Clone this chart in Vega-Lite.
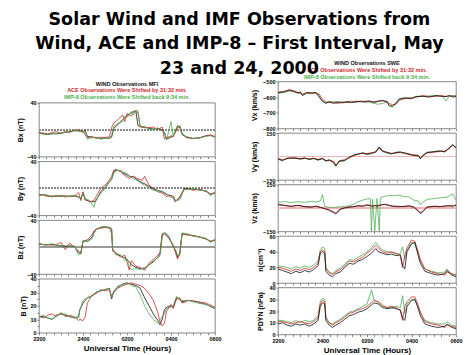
{
"$schema":"https://vega.github.io/schema/vega-lite/v6.json",
"background":"white",
"padding":{"left":16,"top":10,"right":6,"bottom":3},
"title":{"text":["Solar Wind and IMF Observations from","Wind, ACE and IMP-8 – First Interval, May","23 and 24, 2000"],"font":"DejaVu Sans","fontSize":17.5,"fontWeight":"bold","lineHeight":24.5,"color":"#000","anchor":"middle","offset":-16},
"config":{
 "view":{"stroke":"#555","strokeWidth":0.7},
 "axis":{"grid":false,"domain":false,"tickColor":"#555","tickSize":2,"tickWidth":0.7,"labelFont":"Liberation Sans","labelFontWeight":"bold","labelFontSize":5.5,"labelColor":"#000","labelPadding":1,"titleFont":"Liberation Sans","titleFontWeight":"bold","titleFontSize":7,"titleColor":"#000"},
 "line":{"strokeWidth":0.8,"clip":true},
 "text":{"font":"Liberation Sans","fontWeight":"bold","fontSize":5.5}
},
"spacing":28,
"hconcat":[
{
 "spacing":4.7,
 "bounds":"flush",
 "vconcat":[
 {
  "width":176,"height":34.3,
  "view":{"stroke":null},
  "data":{"values":[{"line":" ","s":"w"},{"line":"WIND Observations MFI","s":"w"},{"line":"ACE Observations Were Shifted by 31:32 min.","s":"a"},{"line":"IMP-8 Observations Were Shifted back 9:34 min.","s":"i"}]},
  "mark":{"type":"text","clip":false},
  "encoding":{
   "text":{"field":"line"},
   "y":{"field":"line","type":"ordinal","axis":null,"scale":{"type":"point","padding":0,"domain":[" ","  ","   ","WIND Observations MFI","ACE Observations Were Shifted by 31:32 min.","IMP-8 Observations Were Shifted back 9:34 min."]}},
   "color":{"field":"s","type":"nominal","legend":null,"scale":{"domain":["w","a","i"],"range":["#111111","#d0282c","#4cae50"]}}
  }
 },
 {
  "width":176,"height":54,
  "data":{"values":[
{"t":0,"w":-4,"a":-5,"i":-5},{"t":0.2,"w":-6,"a":-5,"i":-7},{"t":0.4,"w":-7,"a":-6,"i":-7},{"t":0.6,"w":-6,"a":-4,"i":-6},{"t":0.8,"w":-6,"a":-3,"i":-5},{"t":1.0,"w":-5,"a":-6,"i":-5},{"t":1.2,"w":-4,"a":-2,"i":-4},{"t":1.4,"w":-3,"a":-4,"i":-2},{"t":1.6,"w":-1,"a":-1,"i":-2},{"t":1.8,"w":-2,"a":0,"i":-1},{"t":2.0,"w":-3,"a":-2,"i":-4},{"t":2.1,"w":-1,"a":-8,"i":-3},{"t":2.2,"w":-10,"a":-12,"i":-14},{"t":2.4,"w":-11,"a":-10,"i":-12},{"t":2.6,"w":-12,"a":-13,"i":-11},{"t":2.8,"w":-13,"a":-11,"i":-14},{"t":3.0,"w":-12,"a":-12,"i":-13},{"t":3.2,"w":-13,"a":-10,"i":-12},{"t":3.3,"w":-11,"a":3,"i":-8},{"t":3.4,"w":2,"a":10,"i":5},{"t":3.6,"w":8,"a":15,"i":10},{"t":3.8,"w":15,"a":22,"i":12},{"t":3.9,"w":18,"a":12,"i":20},{"t":4.0,"w":21,"a":24,"i":18},{"t":4.2,"w":25,"a":20,"i":27},{"t":4.3,"w":27,"a":26,"i":22},{"t":4.4,"w":28,"a":27,"i":29},{"t":4.5,"w":6,"a":25,"i":28},{"t":4.6,"w":5,"a":4,"i":4},{"t":4.8,"w":4,"a":3,"i":5},{"t":5.0,"w":2,"a":3,"i":1},{"t":5.2,"w":1,"a":4,"i":0},{"t":5.4,"w":2,"a":0,"i":3},{"t":5.6,"w":0,"a":4,"i":-2},{"t":5.7,"w":-5,"a":-14,"i":-3},{"t":5.8,"w":-14,"a":-12,"i":-15},{"t":6.0,"w":-11,"a":-9,"i":12},{"t":6.1,"w":-10,"a":-10,"i":-10},{"t":6.3,"w":5,"a":2,"i":7},{"t":6.4,"w":4,"a":6,"i":3},{"t":6.5,"w":-7,"a":-5,"i":-6},{"t":6.7,"w":-11,"a":-12,"i":-10},{"t":7.0,"w":-13,"a":-13,"i":-13},{"t":7.3,"w":-12,"a":-12,"i":-12},{"t":7.6,"w":-9,"a":-9,"i":-10},{"t":7.8,"w":-8,"a":-8,"i":-9},{"t":8.0,"w":-11,"a":-10,"i":-11}
  ]},
  "transform":[{"fold":["w","a","i"],"as":["s","v"]}],
  "layer":[
   {"mark":{"type":"rule","color":"#8a8a8a","strokeWidth":0.5,"strokeDash":[1.5,1.5]},"encoding":{"y":{"datum":0,"type":"quantitative"}}},
   {"mark":{"type":"line"},"encoding":{
     "x":{"field":"t","type":"quantitative","title":null,"scale":{"domain":[0,8],"nice":false,"zero":false},"axis":{"values":[0,0.3333,0.6667,1,1.3333,1.6667,2,2.3333,2.6667,3,3.3333,3.6667,4,4.3333,4.6667,5,5.3333,5.6667,6,6.3333,6.6667,7,7.3333,7.6667,8],"labels":false}},
     "y":{"field":"v","type":"quantitative","title":"Bx (nT)","scale":{"domain":[-40,40],"nice":false,"zero":false},"axis":{"values":[-40,-30,-20,-10,0,10,20,30,40],"labelExpr":"datum.value % 20 == 0 ? datum.label : ''","titlePadding":3}},
     "color":{"field":"s","type":"nominal","legend":null,"scale":{"domain":["w","a","i"],"range":["#111111","#d0282c","#4cae50"]}}
   }}
  ]
 },
 {
  "width":176,"height":54,
  "data":{"values":[
{"t":0,"w":-10,"a":-9,"i":-11},{"t":0.2,"w":-9,"a":-10,"i":-9},{"t":0.4,"w":-11,"a":-12,"i":-10},{"t":0.6,"w":-12,"a":-11,"i":-13},{"t":0.8,"w":-11,"a":-12,"i":-10},{"t":1.0,"w":-12,"a":-10,"i":-12},{"t":1.2,"w":-11,"a":-13,"i":-11},{"t":1.4,"w":-12,"a":-11,"i":-12},{"t":1.6,"w":-11,"a":-12,"i":-10},{"t":1.8,"w":-13,"a":-6,"i":-12},{"t":1.9,"w":-15,"a":-18,"i":-14},{"t":2.0,"w":-7,"a":-5,"i":-8},{"t":2.1,"w":-17,"a":-16,"i":-15},{"t":2.3,"w":-19,"a":-20,"i":-18},{"t":2.5,"w":-20,"a":-18,"i":-28},{"t":2.6,"w":-18,"a":-12,"i":-16},{"t":2.8,"w":-5,"a":0,"i":-8},{"t":3.0,"w":1,"a":5,"i":0},{"t":3.1,"w":6,"a":8,"i":4},{"t":3.3,"w":13,"a":18,"i":15},{"t":3.4,"w":25,"a":27,"i":22},{"t":3.5,"w":27,"a":28,"i":26},{"t":3.7,"w":26,"a":25,"i":27},{"t":3.8,"w":23,"a":22,"i":25},{"t":4.0,"w":20,"a":17,"i":22},{"t":4.1,"w":18,"a":15,"i":19},{"t":4.3,"w":17,"a":18,"i":14},{"t":4.5,"w":12,"a":14,"i":11},{"t":4.7,"w":8,"a":12,"i":6},{"t":4.8,"w":7,"a":18,"i":5},{"t":5.0,"w":3,"a":5,"i":1},{"t":5.2,"w":-1,"a":0,"i":-3},{"t":5.4,"w":-3,"a":-5,"i":-4},{"t":5.6,"w":-5,"a":-7,"i":-4},{"t":5.8,"w":-9,"a":-12,"i":-8},{"t":6.0,"w":-11,"a":-10,"i":-14},{"t":6.1,"w":-12,"a":-14,"i":-11},{"t":6.2,"w":-19,"a":-20,"i":-18},{"t":6.4,"w":-14,"a":-12,"i":-17},{"t":6.6,"w":0,"a":-2,"i":-1},{"t":6.8,"w":-1,"a":0,"i":-2},{"t":7.0,"w":-1,"a":-3,"i":0},{"t":7.3,"w":-2,"a":-1,"i":-3},{"t":7.6,"w":-4,"a":-5,"i":-3},{"t":7.8,"w":-9,"a":-8,"i":-11},{"t":8.0,"w":-6,"a":-7,"i":-5}
  ]},
  "transform":[{"fold":["w","a","i"],"as":["s","v"]}],
  "layer":[
   {"mark":{"type":"rule","color":"#8a8a8a","strokeWidth":0.5,"strokeDash":[1.5,1.5]},"encoding":{"y":{"datum":0,"type":"quantitative"}}},
   {"mark":{"type":"line"},"encoding":{
     "x":{"field":"t","type":"quantitative","title":null,"scale":{"domain":[0,8],"nice":false,"zero":false},"axis":{"values":[0,0.3333,0.6667,1,1.3333,1.6667,2,2.3333,2.6667,3,3.3333,3.6667,4,4.3333,4.6667,5,5.3333,5.6667,6,6.3333,6.6667,7,7.3333,7.6667,8],"labels":false}},
     "y":{"field":"v","type":"quantitative","title":"By (nT)","scale":{"domain":[-40,40],"nice":false,"zero":false},"axis":{"values":[-40,-30,-20,-10,0,10,20,30,40],"labelExpr":"datum.value % 20 == 0 ? datum.label : ''","titlePadding":3}},
     "color":{"field":"s","type":"nominal","legend":null,"scale":{"domain":["w","a","i"],"range":["#111111","#d0282c","#4cae50"]}}
   }}
  ]
 },
 {
  "width":176,"height":54,
  "data":{"values":[
{"t":0,"w":5,"a":4,"i":5},{"t":0.3,"w":3,"a":4,"i":3},{"t":0.6,"w":4,"a":3,"i":5},{"t":0.9,"w":2,"a":5,"i":2},{"t":1.0,"w":2,"a":7,"i":3},{"t":1.2,"w":1,"a":-4,"i":2},{"t":1.4,"w":2,"a":6,"i":1},{"t":1.6,"w":1,"a":0,"i":2},{"t":1.8,"w":-8,"a":-6,"i":-12},{"t":1.9,"w":-10,"a":-9,"i":-8},{"t":2.0,"w":9,"a":8,"i":10},{"t":2.2,"w":9,"a":11,"i":8},{"t":2.4,"w":14,"a":18,"i":12},{"t":2.5,"w":22,"a":24,"i":20},{"t":2.6,"w":26,"a":27,"i":26},{"t":2.8,"w":29,"a":28,"i":30},{"t":3.0,"w":30,"a":29,"i":30},{"t":3.2,"w":29,"a":28,"i":29},{"t":3.3,"w":27,"a":20,"i":28},{"t":3.35,"w":-4,"a":-6,"i":-2},{"t":3.5,"w":-10,"a":-8,"i":-12},{"t":3.7,"w":-13,"a":-15,"i":-11},{"t":3.9,"w":-16,"a":-12,"i":-20},{"t":4.0,"w":-18,"a":-22,"i":-17},{"t":4.1,"w":-22,"a":-34,"i":-30},{"t":4.2,"w":-26,"a":-20,"i":-33},{"t":4.4,"w":-30,"a":-28,"i":-32},{"t":4.6,"w":-32,"a":-30,"i":-33},{"t":4.8,"w":-32,"a":-34,"i":-30},{"t":5.0,"w":-26,"a":-24,"i":-27},{"t":5.2,"w":-22,"a":-18,"i":-20},{"t":5.4,"w":-15,"a":-12,"i":-16},{"t":5.5,"w":-10,"a":-8,"i":-13},{"t":5.6,"w":18,"a":20,"i":15},{"t":5.7,"w":21,"a":19,"i":22},{"t":5.9,"w":15,"a":13,"i":17},{"t":6.1,"w":1,"a":3,"i":0},{"t":6.2,"w":-5,"a":-8,"i":-3},{"t":6.3,"w":-15,"a":-18,"i":-12},{"t":6.4,"w":-10,"a":-8,"i":-12},{"t":6.5,"w":20,"a":19,"i":21},{"t":6.7,"w":19,"a":18,"i":20},{"t":7.0,"w":17,"a":17,"i":16},{"t":7.3,"w":15,"a":15,"i":15},{"t":7.6,"w":12,"a":12,"i":13},{"t":7.8,"w":8,"a":9,"i":7},{"t":8.0,"w":11,"a":10,"i":12}
  ]},
  "transform":[{"fold":["w","a","i"],"as":["s","v"]}],
  "layer":[
   {"mark":{"type":"rule","color":"#999999","strokeWidth":1},"encoding":{"y":{"datum":0,"type":"quantitative"}}},
   {"mark":{"type":"line"},"encoding":{
     "x":{"field":"t","type":"quantitative","title":null,"scale":{"domain":[0,8],"nice":false,"zero":false},"axis":{"values":[0,0.3333,0.6667,1,1.3333,1.6667,2,2.3333,2.6667,3,3.3333,3.6667,4,4.3333,4.6667,5,5.3333,5.6667,6,6.3333,6.6667,7,7.3333,7.6667,8],"labels":false}},
     "y":{"field":"v","type":"quantitative","title":"Bz (nT)","scale":{"domain":[-40,40],"nice":false,"zero":false},"axis":{"values":[-40,-30,-20,-10,0,10,20,30,40],"labelExpr":"datum.value % 20 == 0 ? datum.label : ''","titlePadding":3}},
     "color":{"field":"s","type":"nominal","legend":null,"scale":{"domain":["w","a","i"],"range":["#111111","#d0282c","#4cae50"]}}
   }}
  ]
 },
 {
  "width":176,"height":54,
  "data":{"values":[
{"t":0,"w":12,"a":12,"i":12},{"t":0.2,"w":12,"a":11,"i":13},{"t":0.4,"w":11,"a":13,"i":11},{"t":0.6,"w":10,"a":14,"i":10},{"t":0.8,"w":13,"a":12,"i":13},{"t":1.0,"w":14,"a":15,"i":14},{"t":1.2,"w":13,"a":12,"i":14},{"t":1.4,"w":12,"a":13,"i":12},{"t":1.6,"w":11,"a":12,"i":11},{"t":1.8,"w":12,"a":9,"i":11},{"t":1.85,"w":17,"a":10,"i":16},{"t":2.0,"w":22,"a":9,"i":24},{"t":2.1,"w":24,"a":12,"i":25},{"t":2.2,"w":26,"a":22,"i":26},{"t":2.4,"w":27,"a":28,"i":27},{"t":2.6,"w":30,"a":29,"i":30},{"t":2.8,"w":31,"a":32,"i":31},{"t":3.0,"w":32,"a":31,"i":32},{"t":3.2,"w":33,"a":32,"i":33},{"t":3.3,"w":25,"a":27,"i":26},{"t":3.4,"w":31,"a":30,"i":30},{"t":3.6,"w":34,"a":33,"i":35},{"t":3.8,"w":36,"a":35,"i":35},{"t":4.0,"w":37,"a":36,"i":37},{"t":4.2,"w":36,"a":37,"i":35},{"t":4.4,"w":35,"a":36,"i":34},{"t":4.6,"w":33,"a":35,"i":28},{"t":4.8,"w":26,"a":33,"i":20},{"t":5.0,"w":20,"a":29,"i":14},{"t":5.2,"w":14,"a":24,"i":10},{"t":5.4,"w":9,"a":15,"i":7},{"t":5.5,"w":6,"a":8,"i":9},{"t":5.6,"w":10,"a":5,"i":12},{"t":5.7,"w":17,"a":7,"i":14},{"t":5.8,"w":19,"a":16,"i":18},{"t":6.0,"w":20,"a":21,"i":19},{"t":6.1,"w":19,"a":18,"i":20},{"t":6.25,"w":26,"a":25,"i":27},{"t":6.4,"w":25,"a":26,"i":24},{"t":6.5,"w":23,"a":22,"i":24},{"t":6.8,"w":24,"a":24,"i":24},{"t":7.2,"w":23,"a":23,"i":22},{"t":7.6,"w":21,"a":22,"i":21},{"t":8.0,"w":18,"a":19,"i":18}
  ]},
  "transform":[{"fold":["w","a","i"],"as":["s","v"]}],
  "mark":{"type":"line"},
  "encoding":{
     "x":{"field":"t","type":"quantitative","title":"Universal Time (Hours)","scale":{"domain":[0,8],"nice":false,"zero":false},"axis":{"values":[0,0.3333,0.6667,1,1.3333,1.6667,2,2.3333,2.6667,3,3.3333,3.6667,4,4.3333,4.6667,5,5.3333,5.6667,6,6.3333,6.6667,7,7.3333,7.6667,8],"labelExpr":"datum.value==0?'2200':datum.value==2?'2400':datum.value==4?'0200':datum.value==6?'0400':datum.value==8?'0600':''","labelFlush":false,"labelOverlap":false,"labelPadding":2,"titleFontSize":8,"titlePadding":2}},
     "y":{"field":"v","type":"quantitative","title":"B (nT)","scale":{"domain":[0,40],"nice":false,"zero":false},"axis":{"values":[0,5,10,15,20,25,30,35,40],"labelExpr":"datum.value % 10 == 0 ? datum.label : ''","titlePadding":3}},
     "color":{"field":"s","type":"nominal","legend":null,"scale":{"domain":["w","a","i"],"range":["#111111","#d0282c","#4cae50"]}}
  }
 }
 ]
},
{
 "spacing":4.5,
 "bounds":"flush",
 "vconcat":[
 {
  "width":178,"height":14,
  "view":{"stroke":null},
  "data":{"values":[{"line":"WIND Observations SWE","s":"w"},{"line":"ACE Observations Were Shifted by 31:32 min.","s":"a"},{"line":"IMP-8 Observations Were Shifted back 9:34 min.","s":"i"}]},
  "mark":{"type":"text","clip":false},
  "encoding":{
   "text":{"field":"line"},
   "y":{"field":"line","type":"ordinal","axis":null,"scale":{"type":"point","padding":0,"domain":["WIND Observations SWE","ACE Observations Were Shifted by 31:32 min.","IMP-8 Observations Were Shifted back 9:34 min."]}},
   "color":{"field":"s","type":"nominal","legend":null,"scale":{"domain":["w","a","i"],"range":["#111111","#d0282c","#4cae50"]}}
  }
 },
 {
  "width":178,"height":47,
  "data":{"values":[
{"t":0,"w":-572,"a":-568,"i":-575},{"t":0.3,"w":-565,"a":-562,"i":-570},{"t":0.5,"w":-556,"a":-552,"i":-560},{"t":0.7,"w":-563,"a":-558,"i":-565},{"t":0.9,"w":-575,"a":-570,"i":-572},{"t":1.0,"w":-568,"a":-575,"i":-566},{"t":1.1,"w":-590,"a":-580,"i":-585},{"t":1.3,"w":-572,"a":-570,"i":-574},{"t":1.5,"w":-574,"a":-572,"i":-578},{"t":1.7,"w":-570,"a":-575,"i":-568},{"t":1.85,"w":-600,"a":-580,"i":-590},{"t":2.0,"w":-625,"a":-615,"i":-630},{"t":2.15,"w":-640,"a":-630,"i":-636},{"t":2.3,"w":-630,"a":-635,"i":-625},{"t":2.5,"w":-640,"a":-632,"i":-630},{"t":2.7,"w":-632,"a":-640,"i":-628},{"t":2.9,"w":-637,"a":-630,"i":-633},{"t":3.1,"w":-628,"a":-635,"i":-630},{"t":3.3,"w":-635,"a":-630,"i":-626},{"t":3.5,"w":-630,"a":-625,"i":-632},{"t":3.7,"w":-625,"a":-630,"i":-628},{"t":3.9,"w":-632,"a":-628,"i":-624},{"t":4.1,"w":-628,"a":-622,"i":-630},{"t":4.3,"w":-630,"a":-635,"i":-640},{"t":4.5,"w":-625,"a":-628,"i":-645},{"t":4.7,"w":-620,"a":-624,"i":-640},{"t":4.9,"w":-632,"a":-625,"i":-630},{"t":5.0,"w":-655,"a":-640,"i":-650},{"t":5.15,"w":-660,"a":-648,"i":-655},{"t":5.3,"w":-640,"a":-645,"i":-636},{"t":5.45,"w":-612,"a":-620,"i":-610},{"t":5.7,"w":-605,"a":-610,"i":-603},{"t":6.0,"w":-610,"a":-604,"i":-606},{"t":6.2,"w":-597,"a":-600,"i":-594},{"t":6.5,"w":-594,"a":-590,"i":-596},{"t":6.8,"w":-600,"a":-596,"i":-592},{"t":7.1,"w":-590,"a":-594,"i":-588},{"t":7.4,"w":-596,"a":-590,"i":-593},{"t":7.55,"w":-595,"a":-598,"i":-625},{"t":7.7,"w":-590,"a":-592,"i":-592},{"t":7.9,"w":-600,"a":-594,"i":-590},{"t":8.0,"w":-595,"a":-590,"i":-592}
  ]},
  "transform":[{"fold":["i","a","w"],"as":["s","v"]}],
  "mark":{"type":"line"},
  "encoding":{
     "x":{"field":"t","type":"quantitative","title":null,"scale":{"domain":[0,8],"nice":false,"zero":false},"axis":{"values":[0,0.3333,0.6667,1,1.3333,1.6667,2,2.3333,2.6667,3,3.3333,3.6667,4,4.3333,4.6667,5,5.3333,5.6667,6,6.3333,6.6667,7,7.3333,7.6667,8],"labels":false}},
     "y":{"field":"v","type":"quantitative","title":"Vx (km/s)","scale":{"domain":[-800,-500],"nice":false,"zero":false},"axis":{"values":[-800,-700,-600,-500],"titlePadding":5}},
     "color":{"field":"s","type":"nominal","legend":null,"scale":{"domain":["w","a","i"],"range":["#111111","#d0282c","#4cae50"]}}
  }
 },
 {
  "width":178,"height":47,
  "data":{"values":[
{"t":0,"w":-15,"a":-12,"i":-18},{"t":0.2,"w":-25,"a":-22,"i":-28},{"t":0.4,"w":-12,"a":-15,"i":-10},{"t":0.6,"w":-8,"a":-10,"i":-12},{"t":0.8,"w":-12,"a":-8,"i":-10},{"t":1.0,"w":-15,"a":-18,"i":-13},{"t":1.2,"w":-10,"a":-12,"i":-8},{"t":1.4,"w":-18,"a":-15,"i":-20},{"t":1.6,"w":-12,"a":-10,"i":-14},{"t":1.8,"w":-20,"a":-25,"i":-18},{"t":2.0,"w":-15,"a":-10,"i":-12},{"t":2.15,"w":-28,"a":-25,"i":-30},{"t":2.3,"w":-22,"a":-26,"i":-20},{"t":2.5,"w":-40,"a":-30,"i":-35},{"t":2.6,"w":-62,"a":-55,"i":-58},{"t":2.75,"w":-30,"a":-28,"i":-32},{"t":3.0,"w":-25,"a":-20,"i":-28},{"t":3.2,"w":-5,"a":-10,"i":-3},{"t":3.4,"w":8,"a":5,"i":10},{"t":3.6,"w":15,"a":18,"i":12},{"t":3.8,"w":22,"a":20,"i":25},{"t":4.0,"w":14,"a":18,"i":15},{"t":4.2,"w":20,"a":25,"i":18},{"t":4.4,"w":30,"a":28,"i":32},{"t":4.55,"w":60,"a":55,"i":62},{"t":4.7,"w":35,"a":30,"i":38},{"t":4.9,"w":25,"a":28,"i":22},{"t":5.1,"w":18,"a":20,"i":15},{"t":5.3,"w":25,"a":22,"i":28},{"t":5.5,"w":28,"a":25,"i":30},{"t":5.8,"w":18,"a":20,"i":15},{"t":6.0,"w":10,"a":12,"i":8},{"t":6.3,"w":5,"a":8,"i":2},{"t":6.4,"w":-15,"a":-10,"i":-12},{"t":6.5,"w":5,"a":2,"i":8},{"t":6.7,"w":25,"a":22,"i":28},{"t":7.0,"w":30,"a":28,"i":32},{"t":7.3,"w":35,"a":32,"i":38},{"t":7.5,"w":30,"a":35,"i":28},{"t":7.7,"w":55,"a":50,"i":58},{"t":7.85,"w":75,"a":70,"i":78},{"t":8.0,"w":55,"a":60,"i":52}
  ]},
  "transform":[{"fold":["i","a","w"],"as":["s","v"]}],
  "layer":[
   {"mark":{"type":"rule","color":"#f0b4b4","strokeWidth":1},"encoding":{"y":{"datum":0,"type":"quantitative"}}},
   {"mark":{"type":"line"},"encoding":{
     "x":{"field":"t","type":"quantitative","title":null,"scale":{"domain":[0,8],"nice":false,"zero":false},"axis":{"values":[0,0.3333,0.6667,1,1.3333,1.6667,2,2.3333,2.6667,3,3.3333,3.6667,4,4.3333,4.6667,5,5.3333,5.6667,6,6.3333,6.6667,7,7.3333,7.6667,8],"labels":false}},
     "y":{"field":"v","type":"quantitative","title":"Vy (km/s)","scale":{"domain":[-150,150],"nice":false,"zero":false},"axis":{"values":[-150,0,150],"titlePadding":5}},
     "color":{"field":"s","type":"nominal","legend":null,"scale":{"domain":["w","a","i"],"range":["#111111","#d0282c","#4cae50"]}}
   }}
  ]
 },
 {
  "width":178,"height":47,
  "data":{"values":[
{"t":0,"w":20,"a":25,"i":38},{"t":0.3,"w":15,"a":18,"i":40},{"t":0.6,"w":10,"a":12,"i":35},{"t":0.9,"w":18,"a":15,"i":40},{"t":1.2,"w":8,"a":10,"i":36},{"t":1.5,"w":5,"a":8,"i":42},{"t":1.7,"w":12,"a":10,"i":38},{"t":1.9,"w":5,"a":3,"i":45},{"t":2.0,"w":0,"a":2,"i":85},{"t":2.1,"w":-5,"a":-3,"i":10},{"t":2.3,"w":-15,"a":-10,"i":5},{"t":2.5,"w":-30,"a":-25,"i":3},{"t":2.6,"w":-38,"a":-30,"i":5},{"t":2.8,"w":-10,"a":-5,"i":8},{"t":3.0,"w":0,"a":2,"i":10},{"t":3.2,"w":5,"a":8,"i":15},{"t":3.4,"w":8,"a":10,"i":25},{"t":3.6,"w":15,"a":12,"i":40},{"t":3.8,"w":10,"a":15,"i":50},{"t":4.0,"w":18,"a":20,"i":58},{"t":4.15,"w":15,"a":18,"i":60},{"t":4.2,"w":12,"a":15,"i":-145},{"t":4.25,"w":10,"a":12,"i":55},{"t":4.35,"w":15,"a":18,"i":-145},{"t":4.45,"w":12,"a":10,"i":60},{"t":4.55,"w":18,"a":15,"i":-145},{"t":4.6,"w":20,"a":18,"i":65},{"t":4.8,"w":22,"a":25,"i":75},{"t":5.0,"w":15,"a":18,"i":80},{"t":5.2,"w":10,"a":12,"i":78},{"t":5.4,"w":8,"a":12,"i":82},{"t":5.6,"w":10,"a":8,"i":75},{"t":5.9,"w":12,"a":15,"i":70},{"t":6.1,"w":5,"a":8,"i":50},{"t":6.3,"w":-20,"a":-15,"i":45},{"t":6.4,"w":-35,"a":-30,"i":20},{"t":6.5,"w":-25,"a":-20,"i":35},{"t":6.7,"w":5,"a":8,"i":55},{"t":7.0,"w":10,"a":12,"i":60},{"t":7.3,"w":8,"a":10,"i":65},{"t":7.6,"w":15,"a":12,"i":70},{"t":7.85,"w":10,"a":18,"i":90},{"t":8.0,"w":20,"a":15,"i":50}
  ]},
  "transform":[{"fold":["i","a","w"],"as":["s","v"]}],
  "layer":[
   {"mark":{"type":"rule","color":"#f0b4b4","strokeWidth":1},"encoding":{"y":{"datum":0,"type":"quantitative"}}},
   {"mark":{"type":"line"},"encoding":{
     "x":{"field":"t","type":"quantitative","title":null,"scale":{"domain":[0,8],"nice":false,"zero":false},"axis":{"values":[0,0.3333,0.6667,1,1.3333,1.6667,2,2.3333,2.6667,3,3.3333,3.6667,4,4.3333,4.6667,5,5.3333,5.6667,6,6.3333,6.6667,7,7.3333,7.6667,8],"labels":false}},
     "y":{"field":"v","type":"quantitative","title":"Vz (km/s)","scale":{"domain":[-150,150],"nice":false,"zero":false},"axis":{"values":[-150,0,150],"titlePadding":5}},
     "color":{"field":"s","type":"nominal","legend":null,"scale":{"domain":["w","a","i"],"range":["#111111","#d0282c","#4cae50"]}}
   }}
  ]
 },
 {
  "width":178,"height":47,
  "data":{"values":[
{"t":0,"w":18,"a":20,"i":22},{"t":0.2,"w":16,"a":19,"i":21},{"t":0.4,"w":14,"a":17,"i":20},{"t":0.6,"w":12,"a":15,"i":18},{"t":0.8,"w":15,"a":18,"i":21},{"t":1.0,"w":13,"a":16,"i":19},{"t":1.2,"w":16,"a":19,"i":22},{"t":1.4,"w":14,"a":17,"i":20},{"t":1.6,"w":17,"a":20,"i":23},{"t":1.8,"w":22,"a":25,"i":28},{"t":1.9,"w":38,"a":40,"i":42},{"t":2.0,"w":40,"a":42,"i":46},{"t":2.1,"w":38,"a":40,"i":44},{"t":2.15,"w":15,"a":18,"i":20},{"t":2.3,"w":10,"a":13,"i":14},{"t":2.45,"w":8,"a":11,"i":12},{"t":2.6,"w":12,"a":14,"i":16},{"t":2.8,"w":14,"a":17,"i":19},{"t":3.0,"w":20,"a":22,"i":24},{"t":3.2,"w":25,"a":28,"i":30},{"t":3.4,"w":24,"a":27,"i":29},{"t":3.6,"w":28,"a":30,"i":33},{"t":3.8,"w":30,"a":33,"i":36},{"t":4.0,"w":34,"a":38,"i":40},{"t":4.2,"w":38,"a":42,"i":45},{"t":4.4,"w":44,"a":48,"i":52},{"t":4.5,"w":40,"a":45,"i":48},{"t":4.7,"w":38,"a":40,"i":42},{"t":4.9,"w":36,"a":38,"i":40},{"t":5.1,"w":37,"a":40,"i":39},{"t":5.3,"w":35,"a":38,"i":37},{"t":5.5,"w":36,"a":34,"i":38},{"t":5.6,"w":22,"a":20,"i":46},{"t":5.7,"w":18,"a":35,"i":30},{"t":5.8,"w":40,"a":45,"i":42},{"t":6.0,"w":50,"a":55,"i":52},{"t":6.15,"w":52,"a":53,"i":50},{"t":6.3,"w":35,"a":40,"i":38},{"t":6.4,"w":25,"a":30,"i":28},{"t":6.6,"w":15,"a":18,"i":18},{"t":6.9,"w":12,"a":14,"i":15},{"t":7.2,"w":10,"a":12,"i":13},{"t":7.5,"w":12,"a":10,"i":14},{"t":7.6,"w":16,"a":14,"i":18},{"t":7.8,"w":10,"a":12,"i":11},{"t":8.0,"w":8,"a":10,"i":11}
  ]},
  "transform":[{"fold":["i","a","w"],"as":["s","v"]}],
  "mark":{"type":"line"},
  "encoding":{
     "x":{"field":"t","type":"quantitative","title":null,"scale":{"domain":[0,8],"nice":false,"zero":false},"axis":{"values":[0,0.3333,0.6667,1,1.3333,1.6667,2,2.3333,2.6667,3,3.3333,3.6667,4,4.3333,4.6667,5,5.3333,5.6667,6,6.3333,6.6667,7,7.3333,7.6667,8],"labels":false}},
     "y":{"field":"v","type":"quantitative","title":"n(cm⁻³)","scale":{"domain":[0,60],"nice":false,"zero":false},"axis":{"values":[0,20,40,60],"titlePadding":5}},
     "color":{"field":"s","type":"nominal","legend":null,"scale":{"domain":["w","a","i"],"range":["#111111","#d0282c","#4cae50"]}}
  }
 },
 {
  "width":178,"height":47,
  "data":{"values":[
{"t":0,"w":9,"a":11,"i":12},{"t":0.2,"w":10,"a":11,"i":12},{"t":0.4,"w":8,"a":10,"i":11},{"t":0.6,"w":7,"a":9,"i":10},{"t":0.8,"w":9,"a":10,"i":12},{"t":1.0,"w":8,"a":11,"i":10},{"t":1.2,"w":9,"a":10,"i":12},{"t":1.4,"w":7,"a":9,"i":11},{"t":1.6,"w":9,"a":11,"i":12},{"t":1.8,"w":12,"a":14,"i":16},{"t":1.9,"w":24,"a":26,"i":28},{"t":2.0,"w":27,"a":29,"i":31},{"t":2.1,"w":26,"a":28,"i":30},{"t":2.15,"w":12,"a":14,"i":15},{"t":2.3,"w":8,"a":10,"i":10},{"t":2.45,"w":6,"a":8,"i":9},{"t":2.6,"w":8,"a":10,"i":11},{"t":2.8,"w":10,"a":12,"i":13},{"t":3.0,"w":13,"a":15,"i":16},{"t":3.2,"w":16,"a":18,"i":19},{"t":3.4,"w":17,"a":19,"i":20},{"t":3.6,"w":19,"a":21,"i":22},{"t":3.8,"w":20,"a":22,"i":24},{"t":4.0,"w":22,"a":24,"i":26},{"t":4.2,"w":25,"a":27,"i":38},{"t":4.3,"w":27,"a":29,"i":30},{"t":4.5,"w":26,"a":28,"i":27},{"t":4.7,"w":23,"a":25,"i":24},{"t":4.9,"w":22,"a":23,"i":23},{"t":5.1,"w":23,"a":24,"i":22},{"t":5.3,"w":22,"a":23,"i":24},{"t":5.5,"w":21,"a":20,"i":23},{"t":5.6,"w":14,"a":12,"i":33},{"t":5.7,"w":12,"a":24,"i":18},{"t":5.8,"w":24,"a":28,"i":26},{"t":6.0,"w":29,"a":32,"i":30},{"t":6.15,"w":30,"a":32,"i":29},{"t":6.3,"w":22,"a":25,"i":24},{"t":6.4,"w":16,"a":19,"i":18},{"t":6.6,"w":9,"a":11,"i":12},{"t":6.9,"w":7,"a":9,"i":10},{"t":7.2,"w":6,"a":8,"i":9},{"t":7.5,"w":7,"a":6,"i":9},{"t":7.6,"w":9,"a":8,"i":11},{"t":7.8,"w":6,"a":7,"i":8},{"t":8.0,"w":5,"a":6,"i":7}
  ]},
  "transform":[{"fold":["i","a","w"],"as":["s","v"]}],
  "mark":{"type":"line"},
  "encoding":{
     "x":{"field":"t","type":"quantitative","title":"Universal Time (Hours)","scale":{"domain":[0,8],"nice":false,"zero":false},"axis":{"values":[0,0.3333,0.6667,1,1.3333,1.6667,2,2.3333,2.6667,3,3.3333,3.6667,4,4.3333,4.6667,5,5.3333,5.6667,6,6.3333,6.6667,7,7.3333,7.6667,8],"labelExpr":"datum.value==0?'2200':datum.value==2?'2400':datum.value==4?'0200':datum.value==6?'0400':datum.value==8?'0600':''","labelFlush":false,"labelOverlap":false,"labelPadding":2,"titleFontSize":8,"titlePadding":2}},
     "y":{"field":"v","type":"quantitative","title":"PDYN (nPa)","scale":{"domain":[0,40],"nice":false,"zero":false},"axis":{"values":[0,10,20,30,40],"titlePadding":5}},
     "color":{"field":"s","type":"nominal","legend":null,"scale":{"domain":["w","a","i"],"range":["#111111","#d0282c","#4cae50"]}}
  }
 }
 ]
}
]
}
